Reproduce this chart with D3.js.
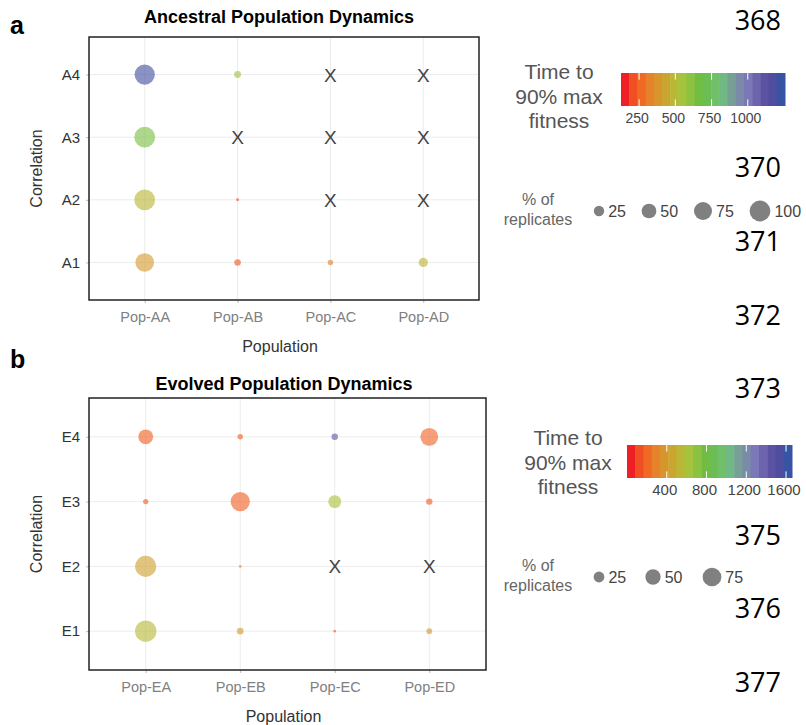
<!DOCTYPE html>
<html>
<head>
<meta charset="utf-8">
<script src="https://cdn.jsdelivr.net/npm/d3@7"></script>
<style>
  body { margin: 0; background: #fff; }
  svg text { font-family: "Liberation Sans", Arial, sans-serif; }
  .lineno { font-family: "Open Sans", "DejaVu Sans", sans-serif !important; }
</style>
</head>
<body>
<svg id="fig" width="806" height="725"></svg>
<script>
// ---- data ----
const ancestralPops = ["Pop-AA", "Pop-AB", "Pop-AC", "Pop-AD"];
const ancestralCorr = ["A1", "A2", "A3", "A4"];
// rows follow ancestralCorr, columns follow ancestralPops; null = X (no replicate)
const ancestralTime = [
  [400, 230, 320, 480],
  [490, 210, null, null],
  [640, null, null, null],
  [1200, 560, null, null]
];
const ancestralPct = [
  [80, 10, 7, 20],
  [100, 2, null, null],
  [100, null, null, null],
  [95, 11, null, null]
];
const ancestralTimeTicks = [250, 500, 750, 1000];
const ancestralPctTicks = [25, 50, 75, 100];

const evolvedPops = ["Pop-EA", "Pop-EB", "Pop-EC", "Pop-ED"];
const evolvedCorr = ["E1", "E2", "E3", "E4"];
const evolvedTime = [
  [550, 400, 150, 400],
  [430, 280, null, null],
  [170, 175, 600, 170],
  [180, 180, 1420, 190]
];
const evolvedPct = [
  [98, 9.5, 1.5, 7],
  [96, 1.5, null, null],
  [6, 79, 36, 9],
  [47, 6.5, 9, 68]
];
const evolvedTimeTicks = [400, 800, 1200, 1600];
const evolvedPctTicks = [25, 50, 75];

const lineNumbers = ["368", "370", "371", "372", "373", "375", "376", "377"];

// colour bar bins (left to right)
const palette = ["#ee2025", "#f04e23", "#f06a25", "#e5822a", "#d8952c", "#caa631", "#b9b836",
  "#a3c43c", "#8cc240", "#70bd44", "#6dbd55", "#70c06a", "#70b884", "#779f96", "#7a8aa8",
  "#7a78b6", "#6d64ad", "#5c52a2", "#4f4d9f", "#3654a3"];

// ---- drawing ----
const svg = d3.select("#fig");

function drawPanel(cfg) {
  const g = svg.append("g");
  const x = d3.scalePoint().domain(cfg.pops).range([cfg.left, cfg.right]).padding(0.6);
  const y = d3.scalePoint().domain(cfg.corr).range([cfg.bottom, cfg.top]).padding(0.6);
  const color = d3.scaleLinear()
    .domain(palette.map((d, i) => cfg.timeDomain[0] + (i + 0.5) / palette.length * (cfg.timeDomain[1] - cfg.timeDomain[0])))
    .range(palette)
    .clamp(true);
  const size = d3.scaleSqrt().domain([0, 100]).range([0, cfg.rMax]);

  // grid
  g.selectAll(".vgrid").data(cfg.pops).join("line")
    .attr("x1", d => x(d)).attr("x2", d => x(d))
    .attr("y1", cfg.top).attr("y2", cfg.bottom)
    .attr("stroke", "#ececec").attr("stroke-width", 1);
  g.selectAll(".hgrid").data(cfg.corr).join("line")
    .attr("y1", d => y(d)).attr("y2", d => y(d))
    .attr("x1", cfg.left).attr("x2", cfg.right)
    .attr("stroke", "#ececec").attr("stroke-width", 1);

  // axes
  const ya = g.append("g").attr("transform", `translate(${cfg.left},0)`)
    .call(d3.axisLeft(y).tickSize(3).tickPadding(6));
  ya.select(".domain").remove();
  ya.selectAll("line").attr("stroke", "#bbb");
  ya.selectAll("text").attr("font-size", 15).attr("fill", "#333");

  const xa = g.append("g").attr("transform", `translate(0,${cfg.bottom})`)
    .call(d3.axisBottom(x).tickSize(3).tickPadding(9));
  xa.select(".domain").remove();
  xa.selectAll("line").attr("stroke", "#bbb");
  xa.selectAll("text").attr("font-size", 14.5).attr("fill", "#808080");

  // frame
  g.append("rect")
    .attr("x", cfg.left).attr("y", cfg.top)
    .attr("width", cfg.right - cfg.left).attr("height", cfg.bottom - cfg.top)
    .attr("fill", "none").attr("stroke", "#222").attr("stroke-width", 1.5);

  // cells
  const cells = [];
  cfg.corr.forEach((c, i) => cfg.pops.forEach((p, j) => {
    cells.push({ pop: p, corr: c, time: cfg.time[i][j], pct: cfg.pct[i][j] });
  }));

  g.selectAll(".bubble").data(cells.filter(d => d.time !== null)).join("circle")
    .attr("cx", d => x(d.pop)).attr("cy", d => y(d.corr))
    .attr("r", d => size(d.pct))
    .attr("fill", d => color(d.time))
    .attr("fill-opacity", 0.62);

  g.selectAll(".miss").data(cells.filter(d => d.time === null)).join("text")
    .attr("x", d => x(d.pop)).attr("y", d => y(d.corr) + 7)
    .attr("text-anchor", "middle")
    .attr("font-size", 19).attr("fill", "#444")
    .text("X");

  // titles
  g.append("text").attr("x", cfg.titleX).attr("y", cfg.titleY)
    .attr("text-anchor", "middle").attr("font-size", 18).attr("font-weight", "bold")
    .attr("fill", "#000").text(cfg.title);
  g.append("text").attr("x", 10).attr("y", cfg.letterY)
    .attr("font-size", 25).attr("font-weight", "bold").attr("fill", "#000").text(cfg.letter);
  g.append("text").attr("x", (cfg.left + cfg.right) / 2 - 4).attr("y", cfg.bottom + 52)
    .attr("text-anchor", "middle").attr("font-size", 16).attr("fill", "#333").text("Population");
  g.append("text")
    .attr("transform", `translate(42,${(cfg.top + cfg.bottom) / 2}) rotate(-90)`)
    .attr("text-anchor", "middle").attr("font-size", 16).attr("fill", "#333").text("Correlation");

  // colour legend
  const lg = cfg.legend;
  const lx = d3.scaleLinear().domain(cfg.timeDomain).range([lg.barX0, lg.barX1]);
  const binW = (lg.barX1 - lg.barX0) / palette.length;
  g.selectAll(".bin").data(palette).join("rect")
    .attr("x", (d, i) => lg.barX0 + i * binW).attr("y", lg.barY)
    .attr("width", binW + 0.5).attr("height", lg.barH)
    .attr("fill", d => d);
  cfg.timeTicks.forEach(t => {
    g.append("line").attr("x1", lx(t)).attr("x2", lx(t))
      .attr("y1", lg.barY).attr("y2", lg.barY + lg.barH / 5)
      .attr("stroke", "#fff").attr("stroke-width", 1);
    g.append("line").attr("x1", lx(t)).attr("x2", lx(t))
      .attr("y1", lg.barY + lg.barH * 4 / 5).attr("y2", lg.barY + lg.barH)
      .attr("stroke", "#fff").attr("stroke-width", 1);
  });
  g.selectAll(".ltick").data(cfg.timeTicks).join("text")
    .attr("x", d => lx(d) - 2).attr("y", lg.barY + lg.barH + 17)
    .attr("text-anchor", "middle").attr("font-size", cfg.tickFont).attr("fill", "#444")
    .text(d => d);
  const tt = g.append("text").attr("text-anchor", "middle").attr("font-size", 21).attr("fill", "#555");
  ["Time to", "90% max", "fitness"].forEach((s, i) => {
    tt.append("tspan").attr("x", lg.titleX).attr("y", lg.titleY + i * 24.5).text(s);
  });

  // size legend
  const st = g.append("text").attr("text-anchor", "middle").attr("font-size", 16).attr("fill", "#666");
  ["% of", "replicates"].forEach((s, i) => {
    st.append("tspan").attr("x", 538).attr("y", lg.sizeY - 6 + i * 20).text(s);
  });
  cfg.pctTicks.forEach((p, i) => {
    const cx = lg.sizeX[i];
    g.append("circle").attr("cx", cx).attr("cy", lg.sizeY).attr("r", size(p)).attr("fill", "#808080");
    g.append("text").attr("x", cx + size(p) + 4).attr("y", lg.sizeY + 6)
      .attr("font-size", 16).attr("fill", "#444").text(p);
  });
}

drawPanel({
  pops: ancestralPops, corr: ancestralCorr, time: ancestralTime, pct: ancestralPct,
  timeTicks: ancestralTimeTicks, pctTicks: ancestralPctTicks,
  timeDomain: [125, 1257], rMax: 10.4, tickFont: 14,
  left: 89, right: 479, top: 37, bottom: 300,
  title: "Ancestral Population Dynamics", titleX: 279, titleY: 23, letter: "a", letterY: 34,
  legend: { barX0: 621, barX1: 785, barY: 73, barH: 33, titleX: 559, titleY: 79,
    sizeY: 211, sizeX: [599, 649, 703, 760] }
});

drawPanel({
  pops: evolvedPops, corr: evolvedCorr, time: evolvedTime, pct: evolvedPct,
  timeTicks: evolvedTimeTicks, pctTicks: evolvedPctTicks,
  timeDomain: [0, 1660], rMax: 10.8, tickFont: 15,
  left: 89, right: 486, top: 398, bottom: 670,
  title: "Evolved Population Dynamics", titleX: 284, titleY: 390, letter: "b", letterY: 368,
  legend: { barX0: 627, barX1: 792, barY: 445, barH: 33, titleX: 568, titleY: 445,
    sizeY: 577, sizeX: [599, 653, 712] }
});

// manuscript line numbers
const lineY = [30, 177, 251, 325, 398, 545, 618, 692];
svg.selectAll(".lineno").data(lineNumbers).join("text")
  .attr("class", "lineno")
  .attr("x", 781).attr("y", (d, i) => lineY[i])
  .attr("text-anchor", "end").attr("font-size", 27).attr("fill", "#000")
  .text(d => d);
</script>
</body>
</html>
